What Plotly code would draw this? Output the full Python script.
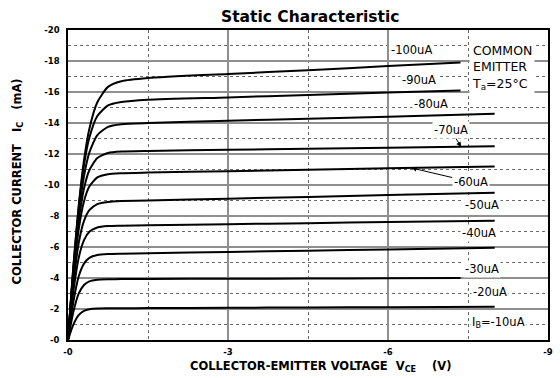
import plotly.graph_objects as go

# ---- data ----
vce_long = [0, -0.05, -0.1, -0.2, -0.3, -0.4, -0.55, -0.75, -1.0, -1.5, -3.0, -4.5, -6.0, -8.0]
vce_short = [0, -0.05, -0.1, -0.2, -0.3, -0.4, -0.55, -0.75, -1.0, -1.5, -3.0, -4.5, -6.0, -7.36]

ic_10 = [0, -0.52, -0.99, -1.60, -1.88, -1.99, -2.04, -2.05, -2.05, -2.06, -2.08, -2.10, -2.12, -2.15]
ic_20 = [0, -0.96, -1.81, -2.99, -3.55, -3.78, -3.89, -3.92, -3.93, -3.94, -3.95, -3.97, -3.98, -4.00]
ic_30 = [0, -1.29, -2.45, -4.10, -4.93, -5.30, -5.49, -5.55, -5.57, -5.60, -5.68, -5.76, -5.84, -5.95]
ic_40 = [0, -1.64, -3.12, -5.29, -6.44, -6.98, -7.26, -7.35, -7.37, -7.40, -7.47, -7.54, -7.61, -7.70]
ic_50 = [0, -1.90, -3.64, -6.24, -7.68, -8.38, -8.77, -8.91, -8.96, -9.00, -9.12, -9.23, -9.35, -9.50]
ic_60 = [0, -2.11, -4.07, -7.12, -8.95, -9.90, -10.49, -10.70, -10.76, -10.80, -10.89, -10.98, -11.08, -11.20]
ic_70 = [0, -2.22, -4.30, -7.65, -9.77, -10.95, -11.74, -12.07, -12.16, -12.20, -12.27, -12.34, -12.41, -12.50]
ic_80 = [0, -2.29, -4.47, -8.09, -10.58, -12.09, -13.22, -13.75, -13.92, -14.00, -14.14, -14.28, -14.41, -14.60]
ic_90 = [0, -2.38, -4.65, -8.53, -11.29, -13.05, -14.45, -15.13, -15.35, -15.50, -15.65, -15.81, -15.96, -16.10]
ic_100 = [0, -2.40, -4.70, -8.61, -11.60, -13.62, -15.34, -16.33, -16.69, -16.90, -17.16, -17.41, -17.67, -17.90]

curves = [
    (vce_long, ic_10), (vce_short, ic_20), (vce_long, ic_30), (vce_long, ic_40),
    (vce_long, ic_50), (vce_long, ic_60), (vce_long, ic_70), (vce_long, ic_80),
    (vce_short, ic_90), (vce_short, ic_100),
]

x_tickvals = [0, -3, -6, -9]
x_ticktext = ["-0", "-3", "-6", "-9"]
x_minor = [-1.5, -4.5, -7.5]
y_tickvals = [0, -2, -4, -6, -8, -10, -12, -14, -16, -18, -20]
y_ticktext = ["-0", "-2", "-4", "-6", "-8", "-10", "-12", "-14", "-16", "-18", "-20"]
y_minor = [-1, -3, -5, -7, -9, -11, -13, -15, -17, -19]

label_text = ["-100uA", "-90uA", "-80uA", "-50uA", "-40uA", "-30uA", "-20uA", "I<sub>B</sub>=-10uA"]
label_v = [-6.44, -6.59, -6.81, -7.77, -7.70, -7.77, -7.92, -8.07]
label_i = [-18.7, -16.8, -15.2, -8.7, -6.9, -4.6, -3.1, -1.1]

arrow_text = ["-70uA", "-60uA"]
arrow_text_v = [-7.18, -7.55]
arrow_text_i = [-13.55, -10.2]
arrow_head_v = [-7.37, -6.44]
arrow_head_i = [-12.45, -11.1]

FONT = "DejaVu Sans"
LBL = 11.5

fig = go.Figure()
for v, i in curves:
    fig.add_trace(go.Scatter(
        x=v, y=i, mode="lines",
        line=dict(color="black", width=2, shape="spline", smoothing=0.6),
        showlegend=False, hoverinfo="skip",
    ))

ann = []
for t, v, i in zip(label_text, label_v, label_i):
    ann.append(dict(x=v, y=i, xref="x", yref="y", text=t, showarrow=False,
                    font=dict(family=FONT, size=LBL, color="black"),
                    bgcolor="white", borderpad=1))
for t, tv, ti, hv, hi in zip(arrow_text, arrow_text_v, arrow_text_i, arrow_head_v, arrow_head_i):
    ann.append(dict(x=hv, y=hi, xref="x", yref="y", ax=tv, ay=ti, axref="x", ayref="y",
                    text=t, showarrow=True, arrowhead=2, arrowsize=1, arrowwidth=1,
                    arrowcolor="black", standoff=0,
                    font=dict(family=FONT, size=LBL, color="black"),
                    bgcolor="white", borderpad=1))
ann.append(dict(x=-7.51, y=-19.35, xref="x", yref="y", xanchor="left", yanchor="top",
                align="left", text="COMMON<br>EMITTER<br>T<sub>a</sub>=25°C", showarrow=False,
                font=dict(family=FONT, size=12.5, color="black"), bgcolor="white", borderpad=2))
ann.append(dict(x=0.525, y=-0.085, xref="paper", yref="paper", xanchor="center", yanchor="middle",
                text="COLLECTOR-EMITTER VOLTAGE&nbsp;&nbsp;V<sub>CE</sub>&nbsp;&nbsp;&nbsp;&nbsp;(V)",
                showarrow=False, font=dict(family=FONT, size=11.5, color="black", weight="bold")))
ann.append(dict(x=-0.105, y=0.51, xref="paper", yref="paper", xanchor="center", yanchor="middle",
                text="COLLECTOR CURRENT&nbsp;&nbsp;&nbsp;I<sub>C</sub>&nbsp;&nbsp;&nbsp;(mA)", textangle=-90,
                showarrow=False, font=dict(family=FONT, size=11.5, color="black", weight="bold")))

axis_common = dict(
    showgrid=True, gridcolor="#8f8f8f", gridwidth=2, zeroline=False,
    showline=True, mirror=True, linecolor="black", linewidth=1.5,
    ticks="", tickfont=dict(family=FONT, size=8.5, color="black", weight="bold"),
)

fig.update_layout(
    width=560, height=378,
    margin=dict(l=68, r=7, t=30, b=38),
    paper_bgcolor="white", plot_bgcolor="white",
    title=dict(text="Static Characteristic", x=0.554, xanchor="center", y=0.955, yanchor="middle",
               font=dict(family=FONT, size=15.5, color="black", weight="bold")),
    xaxis=dict(range=[0, -9], tickmode="array", tickvals=x_tickvals, ticktext=x_ticktext,
               ticklabelstandoff=3,
               minor=dict(tickmode="array", tickvals=x_minor, showgrid=True,
                          gridcolor="#6a6a6a", griddash="dot", gridwidth=1),
               **axis_common),
    yaxis=dict(range=[0, -20], tickmode="array", tickvals=y_tickvals, ticktext=y_ticktext,
               ticklabelstandoff=5,
               minor=dict(tickmode="array", tickvals=y_minor, showgrid=True,
                          gridcolor="#6a6a6a", griddash="dot", gridwidth=1),
               **axis_common),
    annotations=ann,
)

fig.write_html("out.html")
